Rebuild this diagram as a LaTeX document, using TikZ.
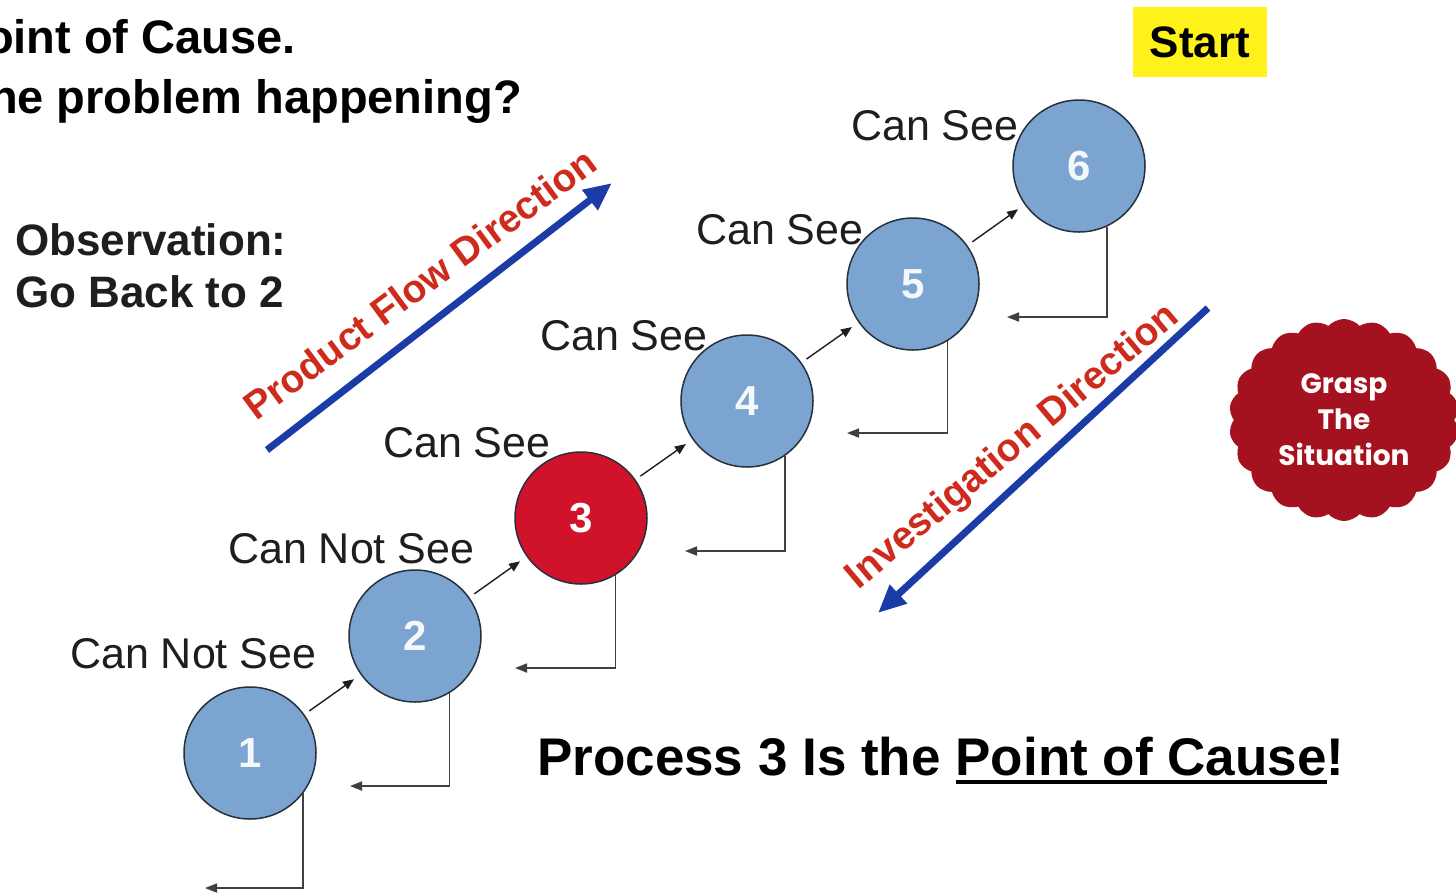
\documentclass[tikz,border=0pt]{standalone}
\usepackage{fontspec}
\setmainfont{Liberation Sans}
\newfontfamily\cloudfont{Poppins}
\usetikzlibrary{arrows.meta,shapes.symbols}

\definecolor{stepblue}{HTML}{7BA4D0}
\definecolor{causered}{HTML}{D0122B}
\definecolor{flowblue}{HTML}{1B3BA6}
\definecolor{flowred}{HTML}{CE2B1D}
\definecolor{cloudred}{HTML}{A5121F}
\definecolor{startyellow}{HTML}{FFF21A}
\definecolor{ink}{HTML}{1E1E1E}
\definecolor{rim}{HTML}{26313D}

% thick underline placed well below the baseline
\newcommand{\heavyline}[1]{{\setbox0\hbox{#1}\rlap{\rule[-9pt]{\wd0}{3.6pt}}\box0}}

\begin{document}
\begin{tikzpicture}[x=1pt,y=-1pt,
  proc/.style={circle,draw=rim,line width=1.5pt,fill=stepblue,minimum size=132pt,
    inner sep=0pt,text=white!92!stepblue,font=\fontsize{42}{42}\bfseries\selectfont},
  fwd/.style={-{Triangle[length=11pt,width=9pt]},line width=1.4pt,ink,
    shorten <=6pt,shorten >=8pt},
  ret/.style={-{Triangle[length=12pt,width=9pt]},line width=1.7pt,ink!85},
  seelabel/.style={anchor=base west,inner sep=0pt,text=ink,
    font=\fontsize{43}{43}\selectfont},
  dirarrow/.style={-{Triangle[length=28pt,width=24pt]},line width=7pt,flowblue},
  dirlabel/.style={anchor=base,inner sep=0pt,text=flowred,
    font=\fontsize{39}{39}\bfseries\selectfont},
  boldtext/.style={inner sep=0pt,text=black,font=\fontsize{#1}{#1}\bfseries\selectfont},
]
\useasboundingbox (0,0) rectangle (1456,895);
\clip (0,0) rectangle (1456,895);
\fill[white] (0,0) rectangle (1456,895);

% heading (runs off the left edge)
\node[boldtext=47,anchor=base east] (head1) at (296,53) {Point of Cause.};
\node[boldtext=47,anchor=base east] (head2) at (522,113) {the problem happening?};

% observation note
\node[boldtext=44,anchor=base west,text=ink] (obs1) at (15,255) {Observation:};
\node[boldtext=44,anchor=base west,text=ink] (obs2) at (15,307) {Go Back to 2};

% start tag
\node[boldtext=44,fill=startyellow,minimum width=134pt,minimum height=70pt] (start) at (1200,42) {Start};

% process circles
\node[proc] (c1) at (250,753) {1};
\node[proc] (c2) at (415,636) {2};
\node[proc,fill=causered,text=white] (c3) at (581,518) {3};
\node[proc] (c4) at (747,401) {4};
\node[proc] (c5) at (913,284) {5};
\node[proc] (c6) at (1079,166) {6};

% forward links
\draw[fwd] (c1) -- (c2);
\draw[fwd] (c2) -- (c3);
\draw[fwd] (c3) -- (c4);
\draw[fwd] (c4) -- (c5);
\draw[fwd] (c5) -- (c6);

% return links
\coordinate (r1) at (205,888);
\coordinate (r2) at (350,786);
\coordinate (r3) at (515,668);
\coordinate (r4) at (685,551);
\coordinate (r5) at (847,433);
\coordinate (r6) at (1007,317);
\draw[ret] (c1.-37) |- (r1);
\draw[ret] (c2.-59) |- (r2);
\draw[ret] (c3.-59) |- (r3);
\draw[ret] (c4.-55) |- (r4);
\draw[ret] (c5.-59) |- (r5);
\draw[ret] (c6.-65) |- (r6);

% visibility labels
\node[seelabel] (l1) at (70,668) {Can Not See};
\node[seelabel] (l2) at (228,563) {Can Not See};
\node[seelabel] (l3) at (383,457) {Can See};
\node[seelabel] (l4) at (540,350) {Can See};
\node[seelabel] (l5) at (696,244) {Can See};
\node[seelabel] (l6) at (851,140) {Can See};

% direction arrows
\coordinate (pf0) at (267,450);
\coordinate (pf1) at (612,183);
\draw[dirarrow] (pf0) -- (pf1);
\node[dirlabel,rotate=36.5] (pflabel) at (428,295) {Product Flow Direction};

\coordinate (iv0) at (1208,308);
\coordinate (iv1) at (878,613);
\draw[dirarrow] (iv0) -- (iv1);
\node[dirlabel,rotate=40] (ivlabel) at (1020,455) {Investigation Direction};

% cloud
\node[cloud,cloud puffs=22,cloud puff arc=95,aspect=1.1,fill=cloudred,
  minimum width=230pt,minimum height=202pt,inner sep=0pt,text=white!95!pink,align=center,
  font=\cloudfont\bfseries\fontsize{28}{36}\selectfont] (grasp) at (1344,420)
  {Grasp\\The\\Situation};

% conclusion
\node[boldtext=53,anchor=base west] (cause) at (537,775)
  {Process 3 Is the \heavyline{Point of Cause}!};
\end{tikzpicture}
\end{document}
